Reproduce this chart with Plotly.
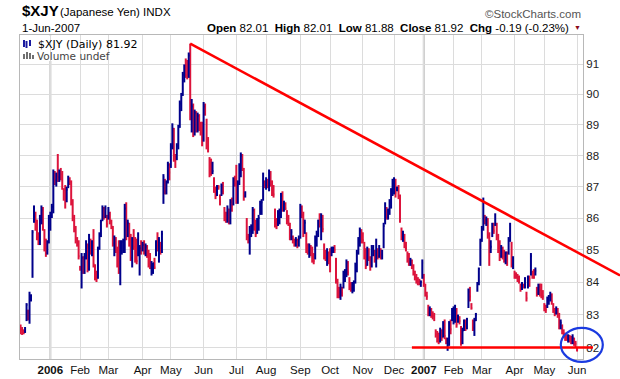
import math
import pandas as pd
import plotly.graph_objects as go

# ---------------- data ----------------
holidays = ["2005-12-26", "2006-01-02", "2006-01-16", "2006-02-20", "2006-04-14",
            "2006-05-29", "2006-07-04", "2006-09-04", "2006-11-23", "2006-12-25",
            "2007-01-01", "2007-01-02", "2007-01-15", "2007-02-19", "2007-04-06",
            "2007-05-28"]

highs = [
    # Dec 2005
    82.97, 82.70, 82.62, 82.55, 82.62, 83.35, 83.15, 83.70, 83.62, 85.62, 86.40, 86.20, 85.95, 85.55, 86.10, 86.40, 86.35, 85.65, 85.35, 85.30, 86.10,
    # Jan 2006
    86.20, 86.45, 87.55, 87.50, 87.45, 88.05, 87.55, 87.60, 87.50, 86.95, 87.05, 87.00, 87.35, 87.30, 87.20, 86.60, 86.10, 85.75, 85.40, 85.30,
    # Feb
    84.50, 84.90, 84.80, 84.90, 85.30, 85.20, 85.50, 85.35, 85.30, 85.65, 84.55, 84.35, 85.10, 85.55, 85.95, 86.40, 86.35, 86.40, 86.10,
    # Mar
    86.35, 86.20, 85.95, 85.75, 85.45, 85.40, 85.10, 85.30, 85.30, 85.30, 85.35, 86.45, 86.50, 85.95, 85.85, 85.50, 85.40, 85.65, 85.40, 85.35, 85.55, 85.15, 85.30,
    # Apr
    85.25, 85.30, 85.20, 85.15, 85.00, 84.90, 84.65, 84.60, 84.75, 85.30, 85.55, 85.40, 85.25, 85.60, 87.40, 87.25, 87.20, 87.80, 87.75,
    # May
    88.40, 89.05, 88.90, 88.05, 88.40, 89.00, 89.80, 90.05, 90.75, 91.00, 91.20, 91.15, 91.40, 91.70, 89.85, 89.70, 89.50, 89.45, 89.40, 89.35, 89.10, 89.10,
    # Jun
    89.75, 89.70, 89.20, 88.60, 87.95, 87.90, 87.80, 87.30, 87.00, 87.05, 87.05, 86.75, 87.10, 87.15, 86.35, 86.20, 86.40, 86.30, 86.60, 86.65, 87.30, 87.35,
    # Jul
    87.70, 87.20, 87.75, 88.10, 88.05, 87.60, 86.85, 86.00, 85.50, 85.75, 85.80, 86.35, 86.30, 85.95, 86.00, 86.10, 86.55, 86.60, 87.45, 87.20,
    # Aug
    87.30, 87.25, 87.55, 87.50, 87.20, 87.05, 86.30, 86.00, 86.25, 86.30, 86.80, 86.85, 86.55, 86.50, 86.25, 86.10, 85.85, 85.65, 85.45, 85.35, 85.40, 85.35, 85.45,
    # Sep
    86.45, 86.40, 86.20, 85.95, 85.55, 85.20, 85.20, 85.15, 85.10, 84.90, 85.45, 85.60, 85.95, 86.15, 86.15, 86.10, 85.20, 85.00, 85.05, 84.95,
    # Oct
    85.05, 85.10, 85.10, 85.15, 84.75, 84.10, 83.85, 83.95, 83.85, 84.35, 84.40, 84.70, 84.65, 84.15, 84.00, 84.00, 84.05, 84.60, 85.00, 85.40, 85.70, 85.65,
    # Nov
    85.55, 85.25, 85.05, 85.10, 85.05, 84.80, 85.15, 85.15, 85.00, 85.35, 85.05, 85.15, 85.05, 85.00, 85.85, 86.50, 86.35, 86.30, 86.60, 86.95, 87.25,
    # Dec
    87.30, 87.25, 87.00, 87.05, 86.75, 85.70, 85.60, 85.50, 85.25, 84.95, 84.90, 84.75, 84.70, 84.55, 84.35, 84.25, 84.15, 84.10, 84.05, 84.70,
    # Jan 2007
    84.25, 83.95, 83.70, 83.30, 83.25, 83.20, 83.10, 83.05, 82.55, 82.50, 82.45, 82.60, 82.55, 82.80, 82.85, 82.30, 82.30, 82.80, 82.85, 83.20,
    # Feb
    83.25, 83.30, 83.20, 83.00, 82.95, 82.65, 82.60, 82.85, 82.85, 82.90, 83.80, 83.85, 83.35, 82.85, 82.90, 83.05, 84.00, 84.45, 85.35,
    # Mar
    85.75, 86.65, 86.10, 86.05, 86.00, 85.55, 85.30, 85.85, 85.85, 86.15, 85.85, 85.50, 85.30, 85.15, 85.10, 85.00, 84.95, 84.95, 85.40, 85.85, 85.25, 84.80,
    # Apr
    84.35, 84.30, 84.25, 84.20, 83.95, 84.00, 83.95, 84.15, 83.70, 84.20, 84.20, 84.90, 84.35, 84.40, 84.45, 83.85, 83.95, 83.95, 83.95, 83.75,
    # May
    83.35, 83.30, 83.55, 83.60, 83.70, 83.65, 83.35, 83.20, 83.25, 83.20, 83.05, 82.85, 82.70, 82.55, 82.45, 82.40, 82.40, 82.38, 82.35, 82.40, 82.30, 82.20,
    # Jun
    82.01,
]

lows = [
    # Dec 2005
    82.42, 82.40, 82.38, 82.40, 82.44, 82.80, 82.82, 82.72, 83.40, 84.13, 85.85, 85.60, 85.30, 85.15, 85.15, 85.80, 85.60, 84.95, 84.78, 84.85, 85.20,
    # Jan 2006
    85.60, 86.00, 86.15, 87.05, 87.00, 87.15, 87.15, 87.20, 86.90, 86.55, 86.30, 86.50, 86.95, 87.05, 86.40, 85.90, 85.55, 85.20, 85.10, 84.70,
    # Feb
    84.35, 83.80, 84.25, 84.25, 84.70, 84.30, 84.35, 84.85, 84.80, 84.45, 84.05, 84.00, 84.10, 85.00, 85.40, 85.90, 85.95, 86.00, 85.70,
    # Mar
    85.95, 85.80, 85.65, 85.10, 84.80, 84.90, 84.45, 84.25, 83.90, 84.85, 84.90, 84.90, 85.30, 85.40, 85.10, 84.65, 84.45, 85.00, 84.60, 84.55, 84.80, 84.20, 84.85,
    # Apr
    84.95, 84.85, 84.80, 84.75, 84.45, 84.40, 84.20, 84.25, 84.40, 84.80, 84.95, 84.60, 84.85, 84.90, 86.45, 86.75, 86.75, 87.10, 87.20,
    # May
    87.60, 88.20, 87.80, 87.60, 87.85, 88.20, 88.90, 89.45, 89.95, 90.40, 90.55, 90.50, 90.55, 89.15, 88.75, 88.60, 88.65, 88.75, 88.75, 88.80, 88.65, 88.30,
    # Jun
    88.45, 89.30, 88.20, 88.10, 87.30, 87.35, 87.40, 86.80, 86.60, 86.70, 86.90, 86.40, 86.70, 86.75, 85.90, 85.85, 85.85, 85.80, 85.80, 86.20, 86.40, 87.00,
    # Jul
    86.45, 86.45, 87.05, 87.30, 87.50, 86.55, 86.65, 85.30, 85.20, 84.85, 85.40, 85.50, 85.60, 85.40, 85.50, 85.60, 86.10, 86.10, 86.55, 86.95,
    # Aug
    86.90, 86.95, 86.85, 87.00, 86.70, 86.65, 85.70, 85.65, 85.75, 85.80, 86.00, 86.20, 86.20, 86.25, 85.80, 85.75, 85.30, 85.30, 85.20, 85.10, 85.10, 85.05, 85.10,
    # Sep
    85.35, 86.00, 85.40, 85.50, 84.90, 84.85, 84.75, 84.80, 84.60, 84.55, 84.70, 85.10, 85.40, 85.70, 85.30, 85.55, 84.70, 84.65, 84.50, 84.55,
    # Oct
    84.30, 84.80, 84.90, 84.90, 83.95, 83.50, 83.50, 83.45, 83.55, 83.80, 84.00, 84.15, 84.20, 83.75, 83.70, 83.65, 83.70, 83.95, 84.30, 84.85, 85.10, 85.20,
    # Nov
    85.20, 84.70, 84.40, 84.50, 84.65, 84.35, 84.45, 84.80, 84.60, 84.45, 84.70, 84.75, 84.70, 84.70, 85.05, 85.80, 85.95, 85.95, 86.10, 86.30, 86.70,
    # Dec
    86.75, 86.65, 86.85, 86.60, 85.85, 85.30, 85.25, 85.05, 84.95, 84.60, 84.50, 84.50, 84.40, 84.20, 84.05, 83.95, 83.90, 83.90, 83.85, 84.10,
    # Jan 2007
    83.85, 83.55, 83.45, 82.95, 82.95, 82.90, 82.85, 82.80, 82.30, 82.15, 82.10, 82.15, 82.20, 82.30, 82.25, 82.10, 81.90, 82.05, 82.40, 82.80,
    # Feb
    82.70, 82.75, 82.60, 82.75, 82.70, 82.05, 82.10, 82.50, 82.50, 82.55, 83.20, 83.40, 83.15, 82.50, 82.35, 82.80, 83.70, 83.90, 84.50,
    # Mar
    85.25, 85.60, 85.80, 85.75, 85.35, 84.50, 84.90, 85.40, 85.50, 85.75, 85.30, 84.90, 84.65, 84.75, 84.70, 84.60, 84.55, 84.50, 84.85, 85.25, 84.45, 84.40,
    # Apr
    84.10, 84.10, 84.00, 83.95, 83.70, 83.75, 83.80, 83.80, 83.40, 83.80, 83.85, 84.20, 84.10, 84.10, 84.20, 83.55, 83.60, 83.55, 83.50, 83.45,
    # May
    83.10, 83.05, 83.20, 83.30, 83.40, 83.30, 83.05, 82.95, 83.00, 82.90, 82.55, 82.55, 82.40, 82.30, 82.20, 82.20, 82.15, 82.15, 82.10, 82.10, 82.05, 82.00,
    # Jun
    81.88,
]

closes = [
    # Dec 2005
    82.60, 82.52, 82.45, 82.44, 82.58, 83.30, 83.00, 83.55, 83.58, 85.55, 86.30, 85.70, 85.40, 85.30, 85.95, 86.25, 85.70, 85.05, 84.90, 85.20, 86.00,
    # Jan 2006
    86.10, 86.35, 87.45, 87.20, 87.35, 87.30, 87.50, 87.40, 87.00, 86.90, 86.45, 86.90, 87.25, 87.15, 86.50, 86.00, 85.65, 85.35, 85.25, 84.80,
    # Feb
    84.40, 84.75, 84.35, 84.80, 85.20, 84.40, 85.35, 85.00, 85.20, 84.55, 84.15, 84.10, 85.00, 85.45, 85.90, 86.30, 86.05, 86.30, 85.80,
    # Mar
    86.25, 85.90, 85.75, 85.20, 85.35, 85.00, 84.55, 84.40, 85.15, 85.25, 85.30, 86.30, 85.45, 85.85, 85.20, 84.75, 85.30, 85.10, 84.70, 84.65, 84.90, 85.05, 85.00,
    # Apr
    85.15, 84.95, 85.10, 84.85, 84.55, 84.50, 84.55, 84.58, 84.45, 85.25, 85.10, 85.30, 84.95, 85.50, 87.30, 86.85, 87.10, 87.70, 87.45,
    # May
    88.30, 88.90, 88.00, 87.95, 88.30, 88.90, 89.70, 89.90, 90.65, 90.80, 90.65, 90.60, 91.30, 89.30, 89.60, 88.80, 89.40, 88.90, 89.30, 88.90, 88.75, 88.45,
    # Jun
    89.60, 89.40, 88.30, 88.20, 87.40, 87.38, 87.50, 86.90, 86.70, 87.00, 86.98, 86.50, 87.00, 86.85, 86.00, 85.95, 86.30, 85.90, 86.50, 86.40, 87.20, 87.10,
    # Jul
    86.55, 87.10, 87.65, 88.00, 87.60, 86.70, 86.80, 85.40, 85.30, 85.60, 85.70, 86.25, 85.70, 85.50, 85.90, 86.00, 86.45, 86.50, 87.35, 87.05,
    # Aug
    87.20, 87.00, 87.45, 87.10, 86.80, 86.75, 85.80, 85.75, 86.15, 86.20, 86.70, 86.30, 86.45, 86.30, 85.90, 85.85, 85.40, 85.55, 85.30, 85.15, 85.30, 85.15, 85.35,
    # Sep
    86.35, 86.10, 85.50, 85.85, 85.00, 84.95, 85.10, 84.90, 84.70, 84.65, 85.35, 85.50, 85.85, 85.80, 86.05, 85.65, 84.80, 84.75, 84.95, 84.65,
    # Oct
    84.40, 85.00, 85.05, 85.00, 84.05, 83.60, 83.55, 83.85, 83.65, 84.25, 84.30, 84.60, 84.30, 83.85, 83.80, 83.95, 84.00, 84.50, 84.90, 85.30, 85.60, 85.55,
    # Nov
    85.30, 84.80, 84.50, 85.00, 84.75, 84.45, 85.05, 85.10, 84.70, 85.25, 84.80, 85.05, 84.85, 84.95, 85.75, 86.40, 86.05, 86.25, 86.50, 86.85, 87.10,
    # Dec
    87.20, 86.80, 86.90, 86.70, 85.95, 85.40, 85.50, 85.15, 85.05, 84.70, 84.60, 84.70, 84.50, 84.30, 84.15, 84.05, 84.00, 83.95, 84.00, 84.60,
    # Jan 2007
    83.95, 83.65, 83.55, 83.05, 83.15, 83.00, 82.95, 82.90, 82.40, 82.25, 82.20, 82.50, 82.30, 82.70, 82.35, 82.20, 82.25, 82.70, 82.55, 83.10,
    # Feb
    83.15, 83.20, 82.70, 82.85, 82.80, 82.15, 82.50, 82.80, 82.60, 82.85, 83.70, 83.55, 83.20, 82.60, 82.80, 83.00, 83.95, 84.40, 85.25,
    # Mar
    85.65, 86.05, 85.95, 86.00, 85.45, 84.65, 85.10, 85.75, 85.60, 86.05, 85.45, 85.00, 84.80, 84.85, 84.80, 84.70, 84.90, 84.60, 85.30, 85.45, 84.55, 84.70,
    # Apr
    84.20, 84.15, 84.05, 84.00, 83.80, 83.90, 83.85, 84.10, 83.50, 84.15, 84.10, 84.80, 84.20, 84.15, 84.35, 83.65, 83.85, 83.75, 83.60, 83.55,
    # May
    83.20, 83.15, 83.45, 83.55, 83.60, 83.40, 83.15, 83.05, 83.20, 83.00, 82.60, 82.75, 82.50, 82.40, 82.30, 82.25, 82.35, 82.30, 82.20, 82.30, 82.15, 82.11,
    # Jun
    81.92,
]

last_open = 82.01
prev_close_start = 82.70
y_ticks = [82, 83, 84, 85, 86, 87, 88, 89, 90, 91]

# annotation (user-drawn) lines, given in chart terms
trend_points = [("2006-05-18", 91.70), ("2007-03-02", 86.52)]
support_level = 82.0
support_start = "2006-12-19"
circle_price = 82.08

# ---------------- build ----------------
dates = [d for d in pd.bdate_range("2005-12-01", "2007-06-01")
         if d.strftime("%Y-%m-%d") not in holidays]
assert len(dates) == len(highs) == len(lows) == len(closes)
date_idx = {d.strftime("%Y-%m-%d"): i for i, d in enumerate(dates)}

W, H = 620, 379
ML, MR, MT, MB = 20, 37, 35, 20
PW, PH = W - ML - MR, H - MT - MB

x_lo, x_hi = 0.6, 379.0
y_lo, y_hi = math.log10(81.654), math.log10(91.99)


def px(i):
    return (i - x_lo) / (x_hi - x_lo)


def py(v):
    return (math.log10(v) - y_lo) / (y_hi - y_lo)


def pix_x(p):  # pixel -> paper
    return (p - ML) / PW


def pix_y(p):
    return (H - MB - p) / PH


month_idx, month_lbl = [], []
for i, d in enumerate(dates):
    if i == 0:
        continue
    if d.month != dates[i - 1].month:
        month_idx.append(i)
        month_lbl.append(f"<b>{d.year}</b>" if d.month == 1 else d.strftime("%b"))

up_x, up_y, dn_x, dn_y = [], [], [], []
for i, (h, l, c) in enumerate(zip(highs, lows, closes)):
    p = closes[i - 1] if i else prev_close_start
    xs, ys = (up_x, up_y) if c >= p else (dn_x, dn_y)
    xs += [i, i, None, i, i + 0.5, None]
    ys += [l, h, None, c, c, None]

BLUE = "#00008b"
RED = "#dc143c"

fig = go.Figure()
fig.add_trace(go.Scatter(x=dn_x, y=dn_y, mode="lines", line=dict(color=RED, width=2),
                         hoverinfo="skip", showlegend=False))
fig.add_trace(go.Scatter(x=up_x, y=up_y, mode="lines", line=dict(color=BLUE, width=2),
                         hoverinfo="skip", showlegend=False))

shapes = []
# thicker year separators
for i, lbl in zip(month_idx, month_lbl):
    if lbl.startswith("<b>"):
        shapes.append(dict(type="line", xref="x", yref="paper", x0=i, x1=i, y0=0, y1=1,
                           line=dict(color="#c4c4c4", width=2), layer="between"))
# legend background box
shapes.append(dict(type="rect", xref="paper", yref="paper", x0=pix_x(20.5), x1=pix_x(142),
                   y0=pix_y(61), y1=pix_y(35.5), fillcolor="white", line=dict(width=0),
                   layer="between"))

# trend line (log-linear through two points), extended to the figure edge
(t0d, t0v), (t1d, t1v) = trend_points
ti0, ti1 = date_idx[t0d], date_idx[t1d]
slope = (math.log10(t1v) - math.log10(t0v)) / (ti1 - ti0)
end_paper_x = pix_x(W)
end_i = x_lo + end_paper_x * (x_hi - x_lo)
end_v = 10 ** (math.log10(t0v) + slope * (end_i - ti0))
shapes.append(dict(type="line", xref="paper", yref="paper",
                   x0=px(ti0), y0=py(t0v), x1=end_paper_x, y1=py(end_v),
                   line=dict(color="#ff0000", width=2.5)))
# support line
si = date_idx[support_start]
shapes.append(dict(type="line", xref="paper", yref="paper",
                   x0=px(si), y0=py(support_level), x1=pix_x(593), y1=py(support_level),
                   line=dict(color="#ff0000", width=2.5)))
# circle around the last bar
ci = len(closes) - 1 + 3.2
cx, cy = px(ci), py(circle_price)
rx, ry = 21 / PW, 17 / PH
shapes.append(dict(type="circle", xref="paper", yref="paper",
                   x0=cx - rx, x1=cx + rx, y0=cy - ry, y1=cy + ry,
                   line=dict(color="#1a3ae0", width=2.2)))

# legend icons
for x_, y0_, y1_ in [(24, 40, 47), (26.5, 41, 48), (30, 40, 46)]:
    shapes.append(dict(type="line", xref="paper", yref="paper", x0=pix_x(x_), x1=pix_x(x_),
                       y0=pix_y(y1_), y1=pix_y(y0_), line=dict(color="#1a1aa0", width=2)))
for x_, y0_ in [(24, 54), (27, 52), (30, 53), (33, 55)]:
    shapes.append(dict(type="line", xref="paper", yref="paper", x0=pix_x(x_), x1=pix_x(x_),
                       y0=pix_y(59), y1=pix_y(y0_), line=dict(color="#707070", width=2)))

HF = "Liberation Sans, Arial, sans-serif"
LF = "DejaVu Sans, Verdana, sans-serif"
last = dates[-1]
chg = closes[-1] - closes[-2]
info = (f"<b>Open</b> {last_open:.2f}  <b>High</b> {highs[-1]:.2f}  "
        f"<b>Low</b> {lows[-1]:.2f}  <b>Close</b> {closes[-1]:.2f}  "
        f"<b>Chg</b> {chg:.2f} ({chg / closes[-2] * 100:.2f}%)")

annotations = [
    dict(text="<b>$XJY</b>", x=pix_x(20), y=pix_y(10.5), xanchor="left", yanchor="middle",
         font=dict(family=HF, size=15, color="#000")),
    dict(text="(Japanese Yen) INDX", x=pix_x(58), y=pix_y(12), xanchor="left", yanchor="middle",
         font=dict(family=HF, size=11.5, color="#000")),
    dict(text=f"{last.day}-{last.strftime('%b-%Y')}", x=pix_x(20), y=pix_y(27.5),
         xanchor="left", yanchor="middle", font=dict(family=HF, size=11.5, color="#000")),
    dict(text=info, x=pix_x(571), y=pix_y(27.5), xanchor="right", yanchor="middle",
         font=dict(family=HF, size=11.5, color="#000")),
    dict(text="\u25bc", x=pix_x(577), y=pix_y(28), xanchor="center", yanchor="middle",
         font=dict(family=HF, size=7, color="#8b0a1a")),
    dict(text="\u00a9StockCharts.com", x=pix_x(583), y=pix_y(13.5), xanchor="right",
         yanchor="middle", font=dict(family=HF, size=11.5, color="#555")),
    dict(text=f"$XJY (Daily) {closes[-1]:.2f}", x=pix_x(36), y=pix_y(44), xanchor="left",
         yanchor="middle", font=dict(family=LF, size=11, color="#000")),
    dict(text="Volume undef", x=pix_x(35), y=pix_y(56), xanchor="left", yanchor="middle",
         font=dict(family=LF, size=10.5, color="#444")),
]
for a in annotations:
    a.update(xref="paper", yref="paper", showarrow=False)

fig.update_layout(
    width=W, height=H,
    margin=dict(l=ML, r=MR, t=MT, b=MB, pad=0, autoexpand=False),
    paper_bgcolor="white", plot_bgcolor="white",
    showlegend=False, hovermode=False,
    shapes=shapes, annotations=annotations,
    xaxis=dict(range=[x_lo, x_hi], tickmode="array", tickvals=month_idx, ticktext=month_lbl,
               automargin=False,
               showgrid=True, gridcolor="#dcdcdc", gridwidth=1, zeroline=False,
               showline=True, linecolor="#b8b8b8", linewidth=1, mirror=True, ticks="",
               tickfont=dict(family=HF, size=11.5, color="#111")),
    yaxis=dict(type="log", range=[y_lo, y_hi], side="right", tickmode="array",
               automargin=False,
               tickvals=y_ticks, ticktext=[str(v) for v in y_ticks],
               showgrid=True, gridcolor="#dcdcdc", gridwidth=1, zeroline=False,
               showline=True, linecolor="#b8b8b8", linewidth=1, mirror=True, ticks="",
               tickfont=dict(family=HF, size=11.5, color="#222")),
)

# remove the page's default body margin so the 620x379 figure fills the window exactly
post = ("document.body.style.margin='0';document.body.style.padding='0';"
        "document.body.style.overflow='hidden';"
        "var gd=document.getElementById('{plot_id}');"
        "Plotly.relayout(gd,{width:620,height:379});")

fig.write_html("out.html", config={"displayModeBar": False, "responsive": False},
               post_script=post)
